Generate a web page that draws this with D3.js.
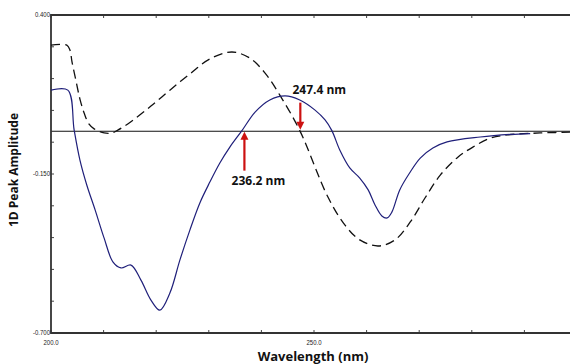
<!DOCTYPE html>
<html><head><meta charset="utf-8">
<script src="https://cdn.jsdelivr.net/npm/d3@7"></script>
<style>html,body{margin:0;padding:0;background:#fff;}svg{display:block;}</style>
</head><body>
<svg id="c" width="570" height="364"></svg>
<script>
const solidX = [200,203.2,204.4,205.5,206.8,208.4,210.1,211.8,213.3,215.2,217.1,219.0,220.7,222.6,224.5,226.4,228.3,230.2,232.1,234.0,236.3,238.8,241.6,244.5,247.3,250.2,252.1,253.4,254.9,256.8,258.7,260.3,261.6,262.9,263.9,264.8,266.3,268.3,270.2,272.6,275.3,281.6,287.3,291.1];
const solidY = [0.140,0.140,0.002,-0.102,-0.188,-0.275,-0.372,-0.455,-0.475,-0.465,-0.517,-0.586,-0.621,-0.562,-0.448,-0.344,-0.250,-0.178,-0.112,-0.057,0,0.064,0.106,0.120,0.106,0.071,0.037,0,-0.067,-0.129,-0.164,-0.205,-0.257,-0.295,-0.302,-0.282,-0.205,-0.143,-0.095,-0.060,-0.039,-0.022,-0.013,-0.010];
const dashX = [200,203.0,203.6,204.0,204.8,205.5,206.3,207.2,208.2,210.1,211.6,212.7,214.6,219.0,222.6,226.4,230.2,234.4,237.8,240.7,243.5,247.3,252.6,255.9,258.7,262.2,265.4,268.3,271.1,274.0,277.4,280.2,283.5,286.7,293.0,300];
const dashY = [0.296,0.296,0.279,0.237,0.168,0.109,0.061,0.023,0.006,-0.008,-0.008,0.002,0.023,0.085,0.140,0.196,0.248,0.272,0.251,0.199,0.123,0,-0.228,-0.327,-0.378,-0.399,-0.378,-0.316,-0.233,-0.154,-0.091,-0.057,-0.026,-0.015,-0.008,-0.005];
const yTickLabels = [0.400,-0.150,-0.700];
const xTickLabels = [200,250];
const annotations = [{nm:236.2, label:"236.2 nm", dir:"up"},{nm:247.4, label:"247.4 nm", dir:"down"}];

const svg = d3.select("#c");
const x = d3.scaleLinear().domain([200,300]).range([51,577]);
const y = d3.scaleLinear().domain([-0.7,0.4]).range([333,15]);

// minor ticks
const xt = d3.range(200,301,10);
const yt = d3.range(0,11).map(i=>0.4-0.11*i);
svg.append("g").selectAll("line").data(xt).join("line")
  .attr("x1",d=>x(d)).attr("x2",d=>x(d)).attr("y1",333).attr("y2",330).attr("stroke","#444").attr("stroke-width",1);
svg.append("g").selectAll("line").data(xt).join("line")
  .attr("x1",d=>x(d)).attr("x2",d=>x(d)).attr("y1",15).attr("y2",18).attr("stroke","#444").attr("stroke-width",1);
svg.append("g").selectAll("line").data(yt).join("line")
  .attr("x1",51).attr("x2",54).attr("y1",d=>y(d)).attr("y2",d=>y(d)).attr("stroke","#444").attr("stroke-width",1);

// zero line
svg.append("line").attr("x1",51).attr("x2",570).attr("y1",y(0)+0.6).attr("y2",y(0)+0.6).attr("stroke","#111").attr("stroke-width",1.2);

// frame
svg.append("path").attr("d",`M570,${y(0.4)}H${x(200)}V${y(-0.7)}H570`).attr("fill","none").attr("stroke","#333").attr("stroke-width",1.8);

const line = d3.line().x(d=>x(d[0])).y(d=>y(d[1])).curve(d3.curveCatmullRom.alpha(0.5));
svg.append("path").datum(dashX.map((v,i)=>[v,dashY[i]])).attr("d",line)
  .attr("fill","none").attr("stroke","#111").attr("stroke-width",1.3).attr("stroke-dasharray","9,5");
svg.append("path").datum(solidX.map((v,i)=>[v,solidY[i]])).attr("d",line)
  .attr("fill","none").attr("stroke","#1f1f7a").attr("stroke-width",1.2);

// tick labels
const tf = "'Liberation Sans Narrow','Liberation Sans',Arial,sans-serif";
svg.append("g").selectAll("text").data(yTickLabels).join("text")
  .attr("x",50).attr("y",d=>y(d)+2.5).attr("text-anchor","end")
  .attr("font-family",tf).attr("font-size",7.5).attr("fill","#222")
  .attr("transform",d=>`translate(${50},0) scale(0.8,1) translate(${-50},0)`)
  .text(d=>d.toFixed(3));
svg.append("g").selectAll("text").data(xTickLabels).join("text")
  .attr("x",d=>x(d)).attr("y",345).attr("text-anchor","middle")
  .attr("font-family",tf).attr("font-size",7.5).attr("fill","#222")
  .attr("transform",d=>`translate(${x(d)},0) scale(0.8,1) translate(${-x(d)},0)`)
  .text(d=>d.toFixed(1));

// axis titles
const bf = "'Open Sans','DejaVu Sans',sans-serif";
svg.append("text").attr("x",313).attr("y",361).attr("text-anchor","middle")
  .attr("font-family",bf).attr("font-weight","bold").attr("font-size",13).attr("fill","#111").text("Wavelength (nm)");
svg.append("text").attr("transform","translate(18,170) rotate(-90)").attr("text-anchor","middle")
  .attr("font-family",bf).attr("font-weight","bold").attr("font-size",12).attr("fill","#111").text("1D Peak Amplitude");

// annotations
const red = "#cc1111";
annotations.forEach(a=>{
  const ax = x(a.nm) + (a.dir==="up"?3:0);
  const y0 = y(0);
  if(a.dir==="up"){
    svg.append("line").attr("x1",ax).attr("x2",ax).attr("y1",y0+40).attr("y2",y0+8).attr("stroke",red).attr("stroke-width",2.2);
    svg.append("path").attr("d",`M${ax-4},${y0+9}L${ax},${y0+1}L${ax+4},${y0+9}Z`).attr("fill",red);
    svg.append("text").attr("x",ax+14).attr("y",y0+54).attr("text-anchor","middle")
      .attr("font-family",bf).attr("font-weight","bold").attr("font-size",12).attr("fill","#111").text(a.label);
  } else {
    svg.append("line").attr("x1",ax).attr("x2",ax).attr("y1",y0-28).attr("y2",y0-8).attr("stroke",red).attr("stroke-width",2.2);
    svg.append("path").attr("d",`M${ax-4},${y0-9}L${ax},${y0-1}L${ax+4},${y0-9}Z`).attr("fill",red);
    svg.append("text").attr("x",ax+19).attr("y",y0-37).attr("text-anchor","middle")
      .attr("font-family",bf).attr("font-weight","bold").attr("font-size",12).attr("fill","#111").text(a.label);
  }
});
</script>
</body></html>
